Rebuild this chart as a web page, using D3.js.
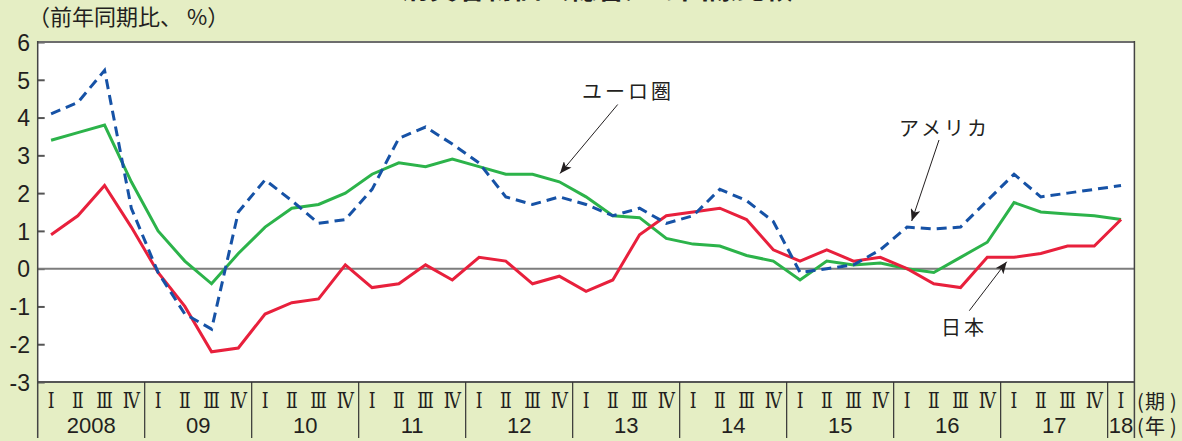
<!DOCTYPE html>
<html>
<head>
<meta charset="utf-8">
<script src="https://cdn.jsdelivr.net/npm/d3@7"></script>
<style>
  html, body { margin: 0; padding: 0; background: #e5eec4; }
  svg { display: block; }
</style>
</head>
<body>
<svg id="chart" width="1182" height="441"></svg>
<script>
// Year labels along the bottom band and the quarter numerals drawn under each point
const years = ["2008", "09", "10", "11", "12", "13", "14", "15", "16", "17", "18"];
const quarterNames = ["Ⅰ", "Ⅱ", "Ⅲ", "Ⅳ"];
const lastYearQuarters = 1; // 2018 only has the first quarter

// Consumer prices, year-on-year % change, 2008 Q1 – 2018 Q1
const japan = [0.9, 1.4, 2.2, 1.1, -0.1, -1.0, -2.2, -2.1, -1.2, -0.9, -0.8, 0.1,
  -0.5, -0.4, 0.1, -0.3, 0.3, 0.2, -0.4, -0.2, -0.6, -0.3, 0.9, 1.4,
  1.5, 1.6, 1.3, 0.5, 0.2, 0.5, 0.2, 0.3, 0.0, -0.4, -0.5, 0.3,
  0.3, 0.4, 0.6, 0.6, 1.3];
const euroArea = [3.4, 3.6, 3.8, 2.3, 1.0, 0.2, -0.4, 0.4, 1.1, 1.6, 1.7, 2.0,
  2.5, 2.8, 2.7, 2.9, 2.7, 2.5, 2.5, 2.3, 1.9, 1.4, 1.35, 0.8,
  0.65, 0.6, 0.35, 0.2, -0.3, 0.2, 0.1, 0.15, 0.0, -0.1, 0.3, 0.7,
  1.75, 1.5, 1.45, 1.4, 1.3];
const usa = [4.1, 4.4, 5.25, 1.6, -0.1, -1.2, -1.6, 1.5, 2.35, 1.8, 1.2, 1.3,
  2.1, 3.45, 3.75, 3.3, 2.8, 1.9, 1.7, 1.9, 1.7, 1.4, 1.6, 1.2,
  1.4, 2.1, 1.8, 1.25, -0.1, 0.0, 0.1, 0.5, 1.1, 1.05, 1.1, 1.8,
  2.5, 1.9, 2.0, 2.1, 2.2];

const yTicks = [-3, -2, -1, 0, 1, 2, 3, 4, 5, 6];

const periods = years.flatMap((yr, yi) =>
  quarterNames.slice(0, yi === years.length - 1 ? lastYearQuarters : 4)
    .map((q, qi) => ({ key: yr + "-" + (qi + 1), year: yr, q }))
);

const svg = d3.select("#chart");
const W = 1182, H = 441;
const plotL = 37.7, plotR = 1134.4, plotT = 42, plotB = 382, bandB = 438;

const x = d3.scaleBand().domain(periods.map(p => p.key)).range([plotL, plotR]).padding(0);
const y = d3.scaleLinear().domain([-3, 6]).range([plotB, plotT]);
const cx = k => x(k) + x.bandwidth() / 2;

const jpFont = "'Noto Sans CJK JP', 'Noto Sans', sans-serif";
const numFont = "'Liberation Sans', Arial, sans-serif";

// background
svg.append("rect").attr("width", W).attr("height", H).attr("fill", "#e5eec4");

// title (sits at the very top edge)
svg.append("text")
  .attr("x", 597).attr("y", -1)
  .attr("text-anchor", "middle")
  .attr("font-family", jpFont).attr("font-weight", "bold")
  .attr("font-size", 28).attr("fill", "#231f20")
  .text("消費者物価（総合）の国際比較");

// unit label
svg.append("text")
  .attr("x", 28).attr("y", 15)
  .attr("dominant-baseline", "central")
  .attr("font-family", jpFont).attr("font-size", 22).attr("fill", "#231f20")
  .text("（前年同期比、 %）");

// plot area
svg.append("rect")
  .attr("x", plotL).attr("y", plotT)
  .attr("width", plotR - plotL).attr("height", plotB - plotT)
  .attr("fill", "#ffffff");

// y axis ticks (inward) and labels
const yAxis = d3.axisLeft(y).tickValues(yTicks).tickSize(-7).tickPadding(14)
  .tickFormat(d => String(d));
const yg = svg.append("g").attr("transform", `translate(${plotL},0)`).call(yAxis);
yg.select(".domain").remove();
yg.selectAll(".tick line").attr("stroke", "#555").attr("stroke-width", 2);
yg.selectAll(".tick text")
  .attr("font-family", numFont).attr("font-size", 23).attr("fill", "#231f20")
  .attr("x", 30 - plotL).attr("dy", "0.36em");

// zero line
svg.append("line")
  .attr("x1", plotL).attr("x2", plotR).attr("y1", y(0)).attr("y2", y(0))
  .attr("stroke", "#7d7d7d").attr("stroke-width", 2);

// frame
svg.append("line").attr("x1", plotL).attr("x2", plotR).attr("y1", plotT).attr("y2", plotT)
  .attr("stroke", "#6d6d6d").attr("stroke-width", 2);
svg.append("line").attr("x1", plotL).attr("x2", plotR).attr("y1", plotB).attr("y2", plotB)
  .attr("stroke", "#555").attr("stroke-width", 2);
svg.append("line").attr("x1", plotL).attr("x2", plotL).attr("y1", plotT - 1).attr("y2", bandB)
  .attr("stroke", "#444").attr("stroke-width", 1.5);
svg.append("line").attr("x1", plotR).attr("x2", plotR).attr("y1", plotT - 1).attr("y2", bandB)
  .attr("stroke", "#444").attr("stroke-width", 1.5);

// year separators in the bottom band
const yearStarts = periods.filter(p => p.key.endsWith("-1")).slice(1);
svg.append("g").selectAll("line").data(yearStarts).join("line")
  .attr("x1", d => x(d.key)).attr("x2", d => x(d.key))
  .attr("y1", plotB).attr("y2", bandB)
  .attr("stroke", "#333").attr("stroke-width", 1.2);

// quarter numerals (tall, slightly condensed serif)
svg.append("g").selectAll("text").data(periods).join("text")
  .attr("transform", d => `translate(${cx(d.key)},400) scale(0.75,1)`)
  .attr("text-anchor", "middle").attr("dominant-baseline", "central")
  .attr("font-family", "'DejaVu Serif', 'Liberation Serif', serif")
  .attr("font-size", 23).attr("fill", "#231f20")
  .text(d => d.q);

// year labels, centred under each year's quarters
const yearGroups = d3.groups(periods, d => d.year);
svg.append("g").selectAll("text").data(yearGroups).join("text")
  .attr("x", d => (x(d[1][0].key) + x(d[1][d[1].length - 1].key) + x.bandwidth()) / 2)
  .attr("y", 425)
  .attr("text-anchor", "middle").attr("dominant-baseline", "central")
  .attr("font-family", numFont).attr("font-size", 22).attr("fill", "#231f20")
  .text(d => d[0]);

// axis unit markers, each glyph placed individually to keep the pair compact
[["(期)", 400], ["(年)", 425]].forEach(([t, yy]) => {
  svg.append("text").attr("x", "1137 1145 1170").attr("y", yy)
    .attr("dominant-baseline", "central")
    .attr("font-family", jpFont).attr("font-size", 20).attr("fill", "#231f20")
    .text(t);
});

// series lines
const line = d3.line().x((d, i) => cx(periods[i].key)).y(d => y(d)).curve(d3.curveLinear);
const lines = svg.append("g").attr("fill", "none").attr("stroke-linejoin", "miter");
lines.append("path").datum(euroArea).attr("d", line)
  .attr("stroke", "#2cb34a").attr("stroke-width", 3);
lines.append("path").datum(japan).attr("d", line)
  .attr("stroke", "#e8203c").attr("stroke-width", 3);
lines.append("path").datum(usa).attr("d", line)
  .attr("stroke", "#1652a6").attr("stroke-width", 3).attr("stroke-dasharray", "10 6");

// annotations with arrows
const defs = svg.append("defs");
defs.append("marker").attr("id", "arrowhead")
  .attr("viewBox", "0 0 12 10").attr("refX", 12).attr("refY", 5)
  .attr("markerWidth", 12).attr("markerHeight", 10)
  .attr("markerUnits", "userSpaceOnUse").attr("orient", "auto")
  .append("path").attr("d", "M0,0 L12,5 L0,10 L3,5 Z").attr("fill", "#231f20");

const notes = [
  { label: "ユーロ圏", tx: 582, ty: 90, from: [617.7, 104.5], to: [560, 173.5] },
  { label: "アメリカ", tx: 899, ty: 127, from: [939, 140], to: [911.7, 221] },
  { label: "日本", tx: 941, ty: 326, from: [969.3, 310.7], to: [1006.7, 261.7] }
];
const ng = svg.append("g");
ng.selectAll("line").data(notes).join("line")
  .attr("x1", d => d.from[0]).attr("y1", d => d.from[1])
  .attr("x2", d => d.to[0]).attr("y2", d => d.to[1])
  .attr("stroke", "#231f20").attr("stroke-width", 1)
  .attr("marker-end", "url(#arrowhead)");
ng.selectAll("text").data(notes).join("text")
  .attr("x", d => d.tx).attr("y", d => d.ty)
  .attr("dominant-baseline", "central")
  .attr("font-family", jpFont).attr("font-size", 20).attr("letter-spacing", 3)
  .attr("fill", "#231f20")
  .text(d => d.label);
</script>
</body>
</html>
